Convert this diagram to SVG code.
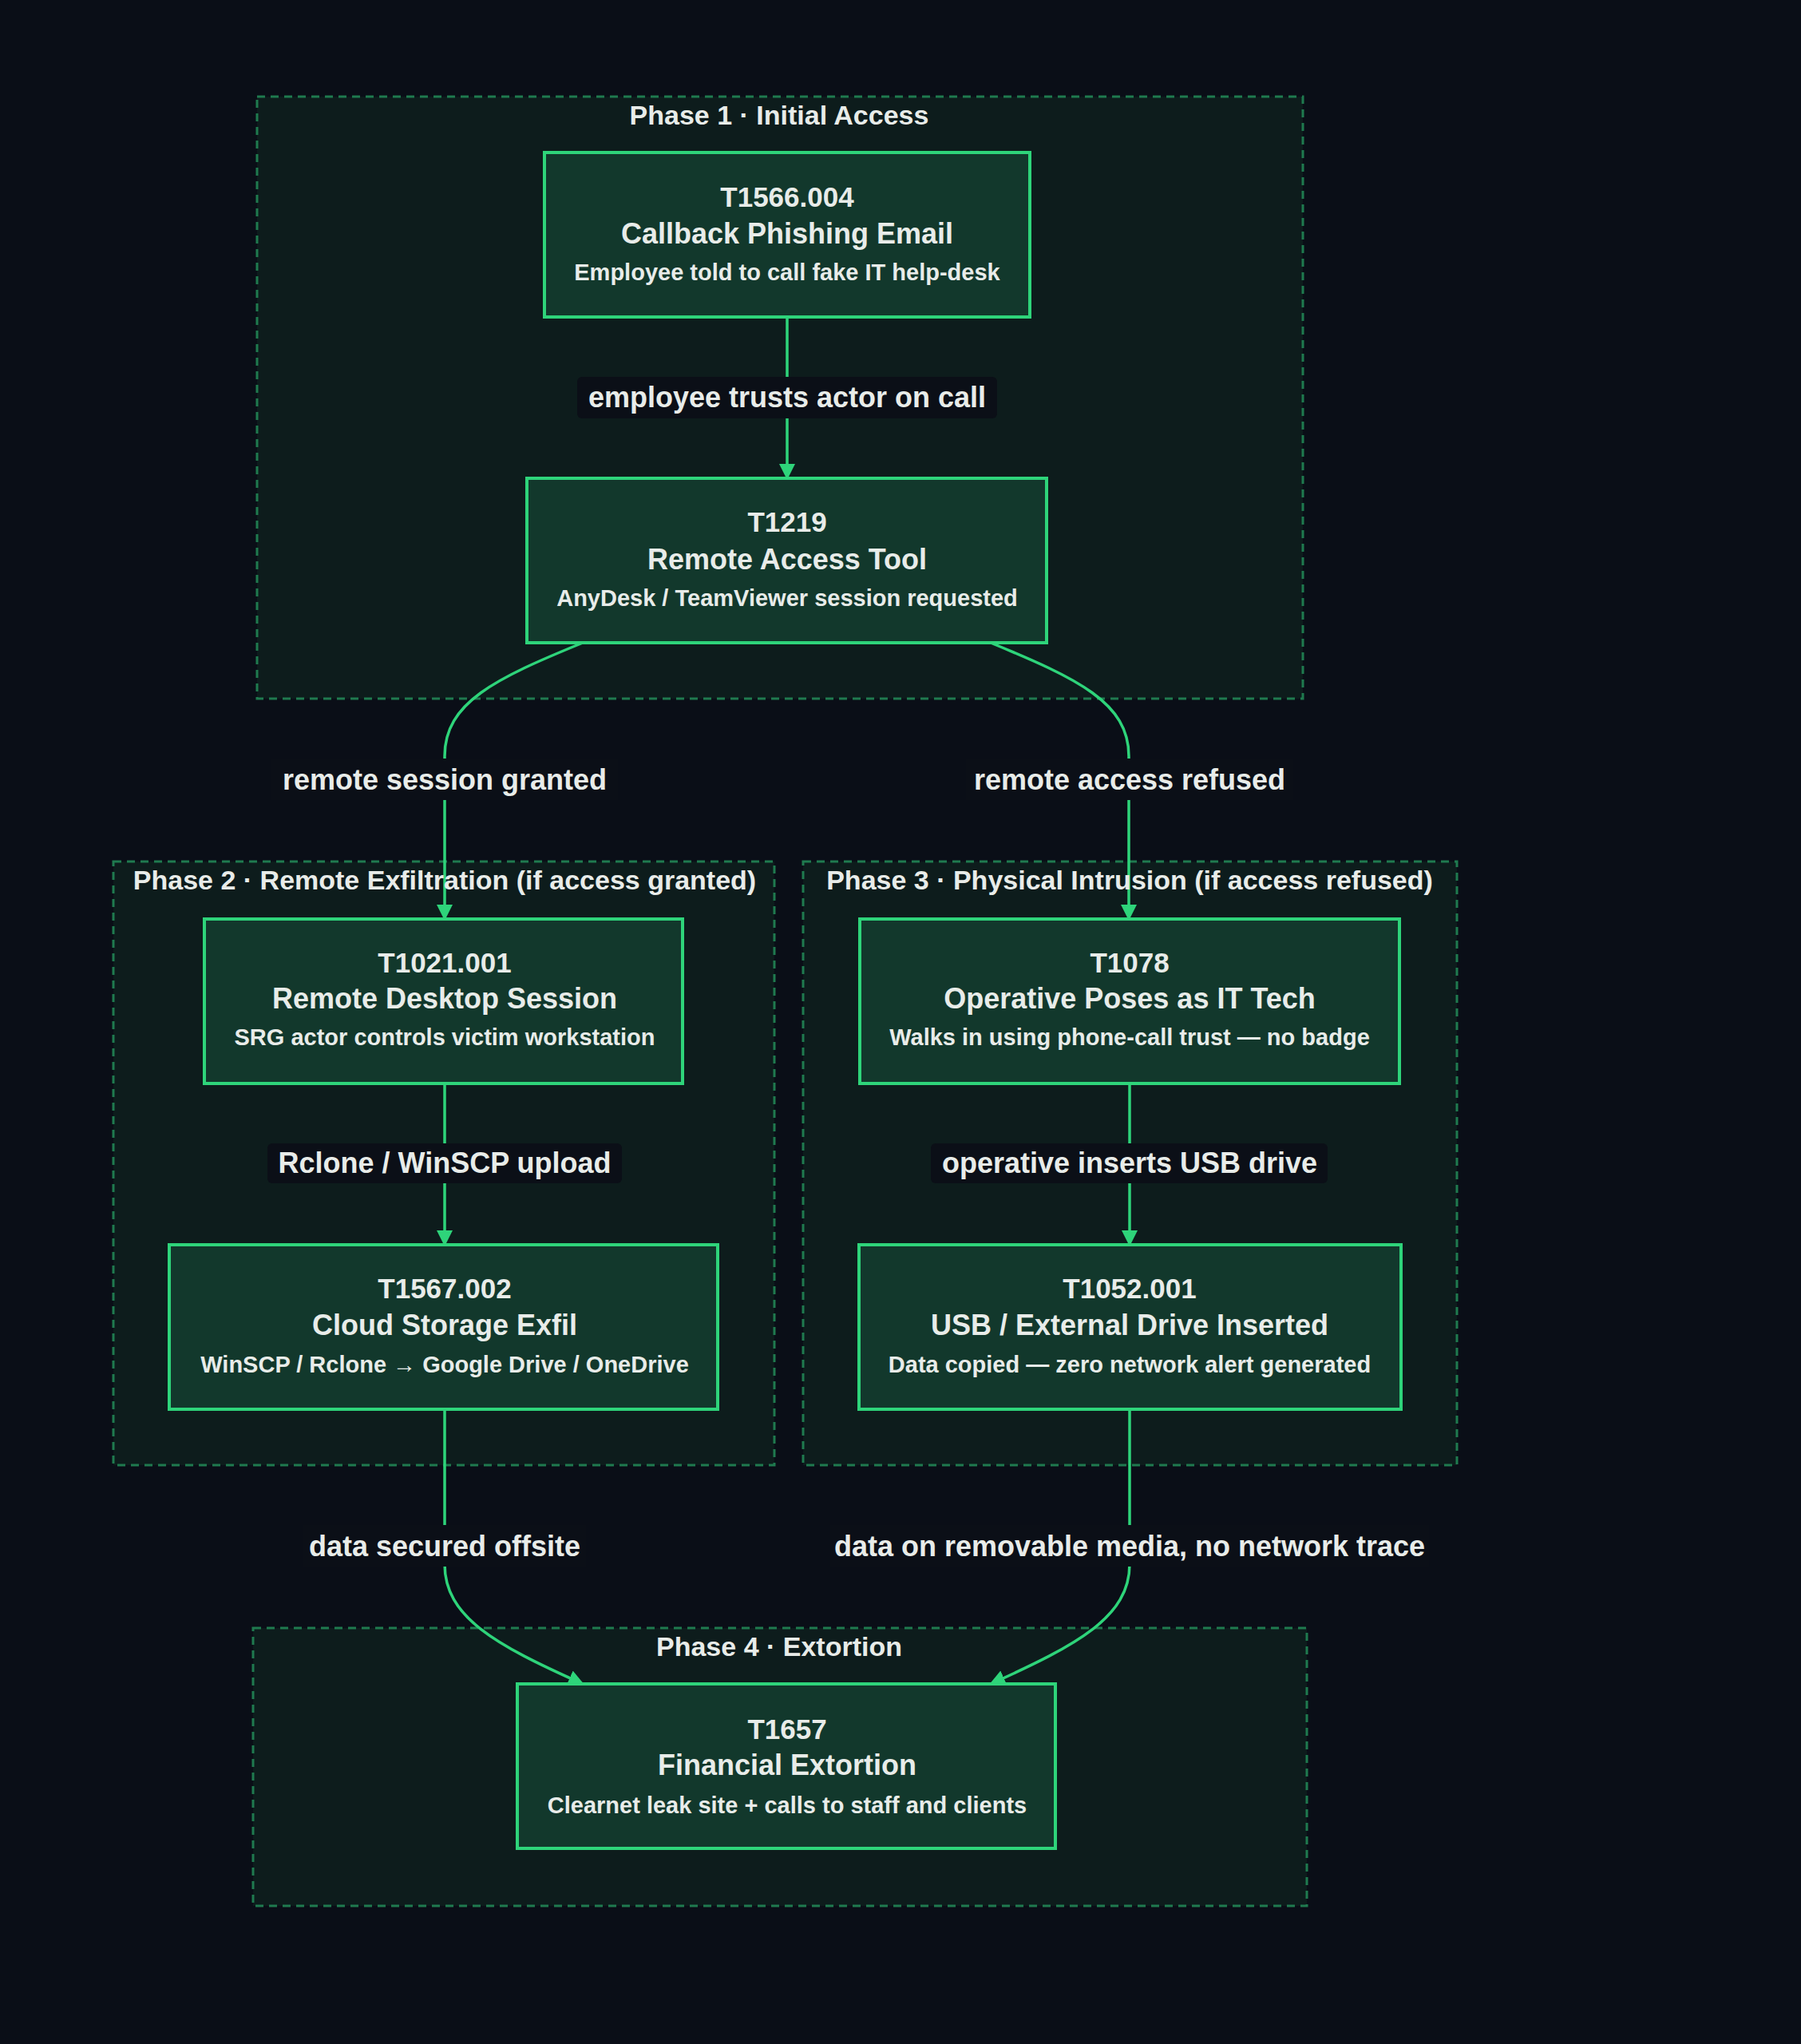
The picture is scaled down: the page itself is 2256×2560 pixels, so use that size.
<svg xmlns="http://www.w3.org/2000/svg" width="2256" height="2560" viewBox="0 0 2256 2560">
<defs>
<marker id="ah" viewBox="0 0 10 10" refX="9" refY="5" markerWidth="7" markerHeight="7" markerUnits="userSpaceOnUse" orient="auto"><path d="M0,0 L10,5 L0,10 z" fill="#2ed47a"/></marker>
<marker id="a" viewBox="0 0 10 10" refX="9" refY="5" markerWidth="20" markerHeight="20" markerUnits="userSpaceOnUse" orient="auto"><path d="M0,0 L10,5 L0,10 z" fill="#2ed47a"/></marker>
</defs>
<style>
text{font-family:"Liberation Sans",Arial,sans-serif;font-weight:bold;fill:#e8ece9;text-anchor:middle;dominant-baseline:central}
.cl{fill:#0d1c1c;stroke:#1f7a4f;stroke-width:3;stroke-dasharray:10 7}
.cl-t{font-size:34px}
.nd{fill:#12382c;stroke:#2ed47a;stroke-width:4}
.t1{font-size:35px}
.t2{font-size:36px}
.t3{font-size:29px}
.e{fill:none;stroke:#2ed47a;stroke-width:3.5;marker-end:url(#a)}
.lb{fill:#0b0f17}
.lt{font-size:36px}
</style>
<rect width="2256" height="2560" fill="#0a0e17"/>
<g id="clusters">
<rect class="cl" x="322" y="121" width="1310" height="754"/>
<text class="cl-t" x="976" y="144">Phase 1 · Initial Access</text>
<rect class="cl" x="142" y="1079" width="828" height="756"/>
<rect class="cl" x="1006" y="1079" width="819" height="756"/>
<rect class="cl" x="317" y="2039" width="1320" height="348"/>
<text class="cl-t" x="976" y="2062">Phase 4 · Extortion</text>
</g>
<g id="connectors">
<path class="e" d="M986,397 V599"/>
<path class="e" d="M730,805 C620,850 557,880 557,947 V1151"/>
<path class="e" d="M1241,805 C1350,850 1414,880 1414,947 V1151"/>
<path class="e" d="M557,1357 V1559"/>
<path class="e" d="M1415,1357 V1559"/>
<path class="e" d="M557,1765 V1959 C557,2025 620,2060 730,2109"/>
<path class="e" d="M1415,1765 V1959 C1415,2025 1350,2060 1241,2109"/>
<rect class="lb" x="723" y="472" width="526" height="52" rx="6"/>
<text class="lt" x="986" y="497">employee trusts actor on call</text>
<rect class="lb" x="340" y="950" width="434" height="52"/>
<text class="lt" x="557" y="976">remote session granted</text>
<rect class="lb" x="1210" y="950" width="410" height="52"/>
<text class="lt" x="1415" y="976">remote access refused</text>
<rect class="lb" x="335" y="1432" width="444" height="50" rx="6"/>
<text class="lt" x="557" y="1456">Rclone / WinSCP upload</text>
<rect class="lb" x="1166" y="1432" width="497" height="50" rx="6"/>
<text class="lt" x="1415" y="1456">operative inserts USB drive</text>
<rect class="lb" x="380" y="1910" width="354" height="52"/>
<text class="lt" x="557" y="1936">data secured offsite</text>
<rect class="lb" x="1040" y="1910" width="750" height="52"/>
<text class="lt" x="1415" y="1936">data on removable media, no network trace</text>
</g>
<g id="phase-labels">
<text class="cl-t" x="557" y="1102">Phase 2 · Remote Exfiltration (if access granted)</text>
<text class="cl-t" x="1415" y="1102">Phase 3 · Physical Intrusion (if access refused)</text>
</g>
<g id="T1566">
<rect class="nd" x="682" y="191" width="608" height="206"/>
<text class="t1" x="986" y="246">T1566.004</text>
<text class="t2" x="986" y="292">Callback Phishing Email</text>
<text class="t3" x="986" y="341">Employee told to call fake IT help-desk</text>
</g>
<g id="T1219">
<rect class="nd" x="660" y="599" width="651" height="206"/>
<text class="t1" x="986" y="653">T1219</text>
<text class="t2" x="986" y="700">Remote Access Tool</text>
<text class="t3" x="986" y="749">AnyDesk / TeamViewer session requested</text>
</g>
<g id="T1021">
<rect class="nd" x="256" y="1151" width="599" height="206"/>
<text class="t1" x="557" y="1205">T1021.001</text>
<text class="t2" x="557" y="1250">Remote Desktop Session</text>
<text class="t3" x="557" y="1299">SRG actor controls victim workstation</text>
</g>
<g id="T1567">
<rect class="nd" x="212" y="1559" width="687" height="206"/>
<text class="t1" x="557" y="1613">T1567.002</text>
<text class="t2" x="557" y="1659">Cloud Storage Exfil</text>
<text class="t3" x="557" y="1709">WinSCP / Rclone → Google Drive / OneDrive</text>
</g>
<g id="T1078">
<rect class="nd" x="1077" y="1151" width="676" height="206"/>
<text class="t1" x="1415" y="1205">T1078</text>
<text class="t2" x="1415" y="1250">Operative Poses as IT Tech</text>
<text class="t3" x="1415" y="1299">Walks in using phone-call trust — no badge</text>
</g>
<g id="T1052">
<rect class="nd" x="1076" y="1559" width="679" height="206"/>
<text class="t1" x="1415" y="1613">T1052.001</text>
<text class="t2" x="1415" y="1659">USB / External Drive Inserted</text>
<text class="t3" x="1415" y="1709">Data copied — zero network alert generated</text>
</g>
<g id="T1657">
<rect class="nd" x="648" y="2109" width="674" height="206"/>
<text class="t1" x="986" y="2165">T1657</text>
<text class="t2" x="986" y="2210">Financial Extortion</text>
<text class="t3" x="986" y="2261">Clearnet leak site + calls to staff and clients</text>
</g>
</svg>
